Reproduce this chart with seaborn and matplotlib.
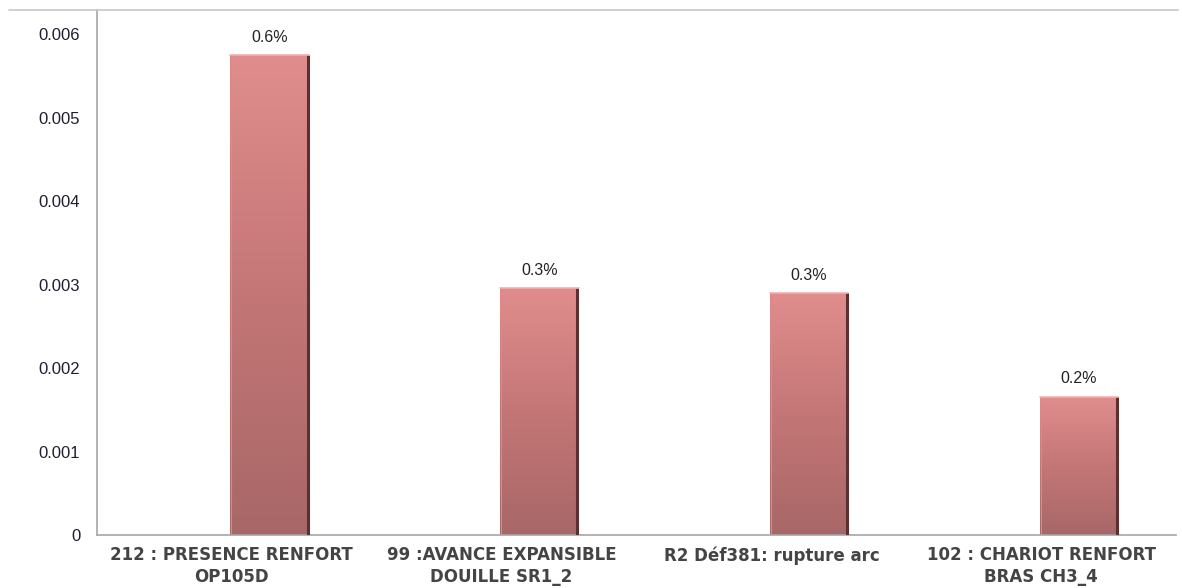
import numpy as np
import pandas as pd
import matplotlib
matplotlib.use("Agg")
import matplotlib.pyplot as plt
import seaborn as sns
from matplotlib.colors import LinearSegmentedColormap
from matplotlib.lines import Line2D

# Defect categories and their share of production
categories = [
    "212 : PRESENCE RENFORT\nOP105D",
    "99 :AVANCE EXPANSIBLE\nDOUILLE SR1_2",
    "R2 Déf381: rupture arc",
    "102 : CHARIOT RENFORT\nBRAS CH3_4",
]
rates = [0.00575, 0.00296, 0.00290, 0.00166]
yticks = [0, 0.001, 0.002, 0.003, 0.004, 0.005, 0.006]
ytick_labels = ["0", "0.001", "0.002", "0.003", "0.004", "0.005", "0.006"]

df = pd.DataFrame({"category": categories, "rate": rates})

sns.set_theme(style="white")
plt.rcParams["font.family"] = ["Liberation Sans", "DejaVu Sans"]

fig = plt.figure(figsize=(11.82, 5.88), dpi=100)
ax = fig.add_axes([0.082, 0.090, 0.913, 0.893])

sns.barplot(data=df, x="category", y="rate", width=0.29, color="#D98080",
            ax=ax, saturation=1)

ax.set_xlim(-0.5, len(categories) - 0.5)
ax.set_ylim(0, 0.00629)

# Bars sit right of the category centre; fill them with a vertical gradient
cmap = LinearSegmentedColormap.from_list("bar", ["#A86767", "#C47676", "#E18D8D"])
grad = np.linspace(0, 1, 256).reshape(-1, 1)
for p, v in zip(ax.patches, rates):
    p.set_x(p.get_x() + 0.14)
    x0, w, h = p.get_x(), p.get_width(), p.get_height()
    p.set_facecolor("none")
    p.set_edgecolor("none")
    im = ax.imshow(grad, cmap=cmap, origin="lower", aspect="auto",
                   extent=[x0, x0 + w, 0, h], zorder=2)
    im.set_clip_path(p)
    # darker right edge and light top rim
    ax.plot([x0 + w * 0.985, x0 + w * 0.985], [0, h], color="#5A3030", lw=2.2,
            zorder=3, solid_capstyle="butt")
    ax.plot([x0 + w * 0.01, x0 + w * 0.01], [0, h], color="#C99090", lw=0.8, zorder=3)
    ax.plot([x0, x0 + w], [h, h], color="#F0B0B0", lw=1.2, zorder=3)
    ax.text(x0 + w / 2, h + 0.00012, format(v, ".1%"), ha="center", va="bottom",
            fontsize=11.5, color="#222222")

# Axes styling
for side in ["top", "right"]:
    ax.spines[side].set_visible(False)
for side in ["left", "bottom"]:
    ax.spines[side].set_color("#A6A6A6")
    ax.spines[side].set_linewidth(1.2)

ax.set_yticks(yticks)
ax.set_yticklabels(ytick_labels, fontsize=12, color="#1E1E2E")
ax.tick_params(axis="y", direction="out", length=5, width=1, color="#A6A6A6", pad=7)

ax.set_xticks(range(len(categories)))
ax.set_xticklabels(categories, fontsize=12, color="#444444", linespacing=1.3,
                   family="DejaVu Sans", fontweight="bold")
ax.tick_params(axis="x", which="major", length=0, pad=8)
ax.set_xticks(np.arange(-0.5, len(categories), 1.0), minor=True)
ax.tick_params(axis="x", which="minor", direction="out", length=5, width=1,
               color="#A6A6A6")
ax.set_xlabel("")
ax.set_ylabel("")
ax.grid(False)

# Chart frame line along the top
fig.add_artist(Line2D([0.008, 0.997], [0.983, 0.983], transform=fig.transFigure,
                      color="#C8C8C8", lw=1.2))

fig.savefig("out.png", dpi=100)
